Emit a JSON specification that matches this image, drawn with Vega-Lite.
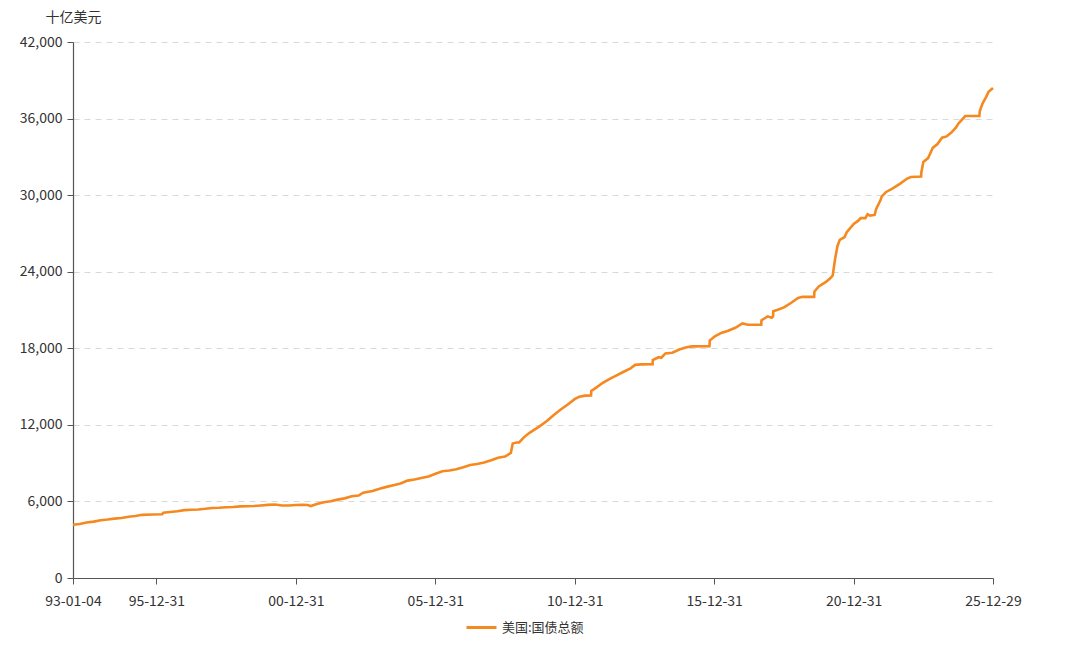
{
  "$schema": "https://vega.github.io/schema/vega-lite/v6.json",
  "width": 920,
  "height": 536,
  "autosize": {"type": "none"},
  "padding": {"left": 73, "top": 42, "right": 87, "bottom": 69},
  "background": "white",
  "config": {
    "view": {"stroke": null},
    "font": "Noto Sans CJK SC"
  },
  "data": {
    "values": [
      {"date": "1993-01-04", "debt": 4170},
      {"date": "1993-04-01", "debt": 4230},
      {"date": "1993-07-01", "debt": 4350},
      {"date": "1993-10-01", "debt": 4420},
      {"date": "1994-01-03", "debt": 4530},
      {"date": "1994-04-01", "debt": 4580},
      {"date": "1994-07-01", "debt": 4650},
      {"date": "1994-10-01", "debt": 4700},
      {"date": "1995-01-03", "debt": 4800},
      {"date": "1995-04-01", "debt": 4860},
      {"date": "1995-07-01", "debt": 4950},
      {"date": "1995-11-15", "debt": 4980},
      {"date": "1996-03-15", "debt": 4990},
      {"date": "1996-04-01", "debt": 5110},
      {"date": "1996-07-01", "debt": 5170},
      {"date": "1996-10-01", "debt": 5230},
      {"date": "1997-01-02", "debt": 5320},
      {"date": "1997-04-01", "debt": 5350},
      {"date": "1997-07-01", "debt": 5370},
      {"date": "1997-10-01", "debt": 5420},
      {"date": "1998-01-02", "debt": 5490},
      {"date": "1998-04-01", "debt": 5500},
      {"date": "1998-07-01", "debt": 5540},
      {"date": "1998-10-01", "debt": 5560},
      {"date": "1999-01-04", "debt": 5610},
      {"date": "1999-04-01", "debt": 5620},
      {"date": "1999-07-01", "debt": 5640},
      {"date": "1999-10-01", "debt": 5680},
      {"date": "2000-01-03", "debt": 5730},
      {"date": "2000-04-03", "debt": 5760},
      {"date": "2000-07-03", "debt": 5680},
      {"date": "2000-10-02", "debt": 5680},
      {"date": "2001-01-02", "debt": 5720},
      {"date": "2001-04-02", "debt": 5730},
      {"date": "2001-06-01", "debt": 5720},
      {"date": "2001-07-16", "debt": 5640},
      {"date": "2001-10-01", "debt": 5800},
      {"date": "2002-01-02", "debt": 5940},
      {"date": "2002-04-01", "debt": 6010},
      {"date": "2002-07-01", "debt": 6140},
      {"date": "2002-10-01", "debt": 6240},
      {"date": "2003-01-02", "debt": 6400},
      {"date": "2003-04-01", "debt": 6460},
      {"date": "2003-06-02", "debt": 6690},
      {"date": "2003-10-01", "debt": 6820},
      {"date": "2004-01-02", "debt": 7000},
      {"date": "2004-04-01", "debt": 7140},
      {"date": "2004-07-01", "debt": 7270},
      {"date": "2004-10-01", "debt": 7400},
      {"date": "2005-01-03", "debt": 7630},
      {"date": "2005-04-01", "debt": 7720},
      {"date": "2005-07-01", "debt": 7840},
      {"date": "2005-10-03", "debt": 7960},
      {"date": "2006-01-03", "debt": 8170},
      {"date": "2006-04-03", "debt": 8370},
      {"date": "2006-07-03", "debt": 8420},
      {"date": "2006-10-02", "debt": 8520},
      {"date": "2007-01-02", "debt": 8680},
      {"date": "2007-04-02", "debt": 8850},
      {"date": "2007-07-02", "debt": 8930},
      {"date": "2007-10-01", "debt": 9050},
      {"date": "2008-01-02", "debt": 9220},
      {"date": "2008-04-01", "debt": 9420},
      {"date": "2008-07-01", "debt": 9510},
      {"date": "2008-09-15", "debt": 9800},
      {"date": "2008-10-10", "debt": 10530},
      {"date": "2008-12-01", "debt": 10620},
      {"date": "2009-01-02", "debt": 10620},
      {"date": "2009-03-02", "debt": 11000},
      {"date": "2009-05-01", "debt": 11300},
      {"date": "2009-07-01", "debt": 11550},
      {"date": "2009-10-01", "debt": 11900},
      {"date": "2010-01-04", "debt": 12320},
      {"date": "2010-04-01", "debt": 12780},
      {"date": "2010-07-01", "debt": 13200},
      {"date": "2010-10-01", "debt": 13600},
      {"date": "2011-01-03", "debt": 14030},
      {"date": "2011-03-01", "debt": 14200},
      {"date": "2011-05-16", "debt": 14290},
      {"date": "2011-08-01", "debt": 14300},
      {"date": "2011-08-05", "debt": 14650},
      {"date": "2011-10-03", "debt": 14900},
      {"date": "2012-01-03", "debt": 15300},
      {"date": "2012-04-02", "debt": 15600},
      {"date": "2012-07-02", "debt": 15880},
      {"date": "2012-10-01", "debt": 16160},
      {"date": "2012-12-31", "debt": 16430},
      {"date": "2013-03-01", "debt": 16700},
      {"date": "2013-05-19", "debt": 16740},
      {"date": "2013-10-16", "debt": 16750},
      {"date": "2013-10-18", "debt": 17080},
      {"date": "2014-01-02", "debt": 17300},
      {"date": "2014-02-07", "debt": 17260},
      {"date": "2014-04-01", "debt": 17600},
      {"date": "2014-07-01", "debt": 17650},
      {"date": "2014-10-01", "debt": 17900},
      {"date": "2015-01-02", "debt": 18080},
      {"date": "2015-03-16", "debt": 18150},
      {"date": "2015-10-30", "debt": 18160},
      {"date": "2015-11-03", "debt": 18600},
      {"date": "2016-01-04", "debt": 18920},
      {"date": "2016-04-01", "debt": 19200},
      {"date": "2016-07-01", "debt": 19380},
      {"date": "2016-10-03", "debt": 19610},
      {"date": "2017-01-03", "debt": 19950},
      {"date": "2017-03-16", "debt": 19850},
      {"date": "2017-09-07", "debt": 19850},
      {"date": "2017-09-11", "debt": 20200},
      {"date": "2017-12-01", "debt": 20500},
      {"date": "2018-01-22", "debt": 20400},
      {"date": "2018-02-09", "debt": 20500},
      {"date": "2018-02-12", "debt": 20900},
      {"date": "2018-04-02", "debt": 21000},
      {"date": "2018-07-02", "debt": 21200},
      {"date": "2018-10-01", "debt": 21550},
      {"date": "2019-01-02", "debt": 21950},
      {"date": "2019-03-01", "debt": 22030},
      {"date": "2019-08-01", "debt": 22030},
      {"date": "2019-08-05", "debt": 22450},
      {"date": "2019-10-01", "debt": 22850},
      {"date": "2020-01-02", "debt": 23200},
      {"date": "2020-03-02", "debt": 23500},
      {"date": "2020-03-31", "debt": 23700},
      {"date": "2020-04-30", "debt": 24950},
      {"date": "2020-06-01", "debt": 26000},
      {"date": "2020-07-01", "debt": 26500},
      {"date": "2020-09-01", "debt": 26700},
      {"date": "2020-10-01", "debt": 27100},
      {"date": "2020-12-31", "debt": 27750},
      {"date": "2021-03-01", "debt": 28000},
      {"date": "2021-04-01", "debt": 28200},
      {"date": "2021-06-01", "debt": 28200},
      {"date": "2021-07-01", "debt": 28500},
      {"date": "2021-08-02", "debt": 28400},
      {"date": "2021-10-01", "debt": 28450},
      {"date": "2021-10-20", "debt": 28900},
      {"date": "2021-12-16", "debt": 29600},
      {"date": "2022-01-03", "debt": 29900},
      {"date": "2022-03-01", "debt": 30250},
      {"date": "2022-06-01", "debt": 30550},
      {"date": "2022-09-01", "debt": 30900},
      {"date": "2022-12-01", "debt": 31300},
      {"date": "2023-01-19", "debt": 31420},
      {"date": "2023-06-02", "debt": 31460},
      {"date": "2023-06-05", "debt": 31800},
      {"date": "2023-07-01", "debt": 32600},
      {"date": "2023-09-01", "debt": 32900},
      {"date": "2023-09-20", "debt": 33150},
      {"date": "2023-11-01", "debt": 33700},
      {"date": "2024-01-02", "debt": 34000},
      {"date": "2024-03-01", "debt": 34500},
      {"date": "2024-05-01", "debt": 34600},
      {"date": "2024-07-01", "debt": 34900},
      {"date": "2024-09-01", "debt": 35300},
      {"date": "2024-10-01", "debt": 35600},
      {"date": "2024-11-15", "debt": 35900},
      {"date": "2024-12-31", "debt": 36200},
      {"date": "2025-03-01", "debt": 36200},
      {"date": "2025-07-03", "debt": 36200},
      {"date": "2025-07-10", "debt": 36600},
      {"date": "2025-08-15", "debt": 37200},
      {"date": "2025-10-01", "debt": 37700},
      {"date": "2025-11-01", "debt": 38100},
      {"date": "2025-12-29", "debt": 38400}
    ]
  },
  "mark": {"type": "line", "strokeWidth": 2.6, "interpolate": "linear"},
  "encoding": {
    "x": {
      "field": "date",
      "type": "temporal",
      "scale": {"type": "utc", "domain": [{"year": 1993, "month": 1, "date": 4, "utc": true}, {"year": 2025, "month": 12, "date": 29, "utc": true}]},
      "axis": {
        "title": null,
        "values": [
          {"year": 1993, "month": 1, "date": 4, "utc": true},
          {"year": 1995, "month": 12, "date": 31, "utc": true},
          {"year": 2000, "month": 12, "date": 31, "utc": true},
          {"year": 2005, "month": 12, "date": 31, "utc": true},
          {"year": 2010, "month": 12, "date": 31, "utc": true},
          {"year": 2015, "month": 12, "date": 31, "utc": true},
          {"year": 2020, "month": 12, "date": 31, "utc": true},
          {"year": 2025, "month": 12, "date": 29, "utc": true}
        ],
        "format": "%y-%m-%d",
        "grid": false,
        "domainColor": "#555555",
        "domainWidth": 1.2,
        "tickColor": "#555555",
        "tickSize": 6,
        "labelColor": "#333333",
        "labelFontSize": 14,
        "labelPadding": 10,
        "labelFont": "Noto Sans CJK SC",
        "labelOverlap": false,
        "labelFlush": false,
        "labelBound": false,
        "labelAlign": "center"
      }
    },
    "y": {
      "field": "debt",
      "type": "quantitative",
      "scale": {"domain": [0, 42000], "nice": false},
      "axis": {
        "values": [0, 6000, 12000, 18000, 24000, 30000, 36000, 42000],
        "format": ",.0f",
        "title": "十亿美元",
        "titleAngle": 0,
        "titleX": 0,
        "titleY": -25,
        "titleAlign": "center",
        "titleBaseline": "middle",
        "titleFontSize": 14,
        "titleFontWeight": "normal",
        "titleColor": "#333333",
        "titleFont": "Noto Sans CJK SC",
        "grid": true,
        "gridColor": "#d9d9d9",
        "gridDash": [6, 5],
        "gridWidth": 1,
        "domainColor": "#555555",
        "domainWidth": 1.2,
        "tickColor": "#555555",
        "tickSize": 6,
        "labelColor": "#333333",
        "labelFontSize": 14,
        "labelPadding": 5,
        "labelFont": "Noto Sans CJK SC",
        "labelFlush": false
      }
    },
    "color": {
      "datum": "美国:国债总额",
      "type": "nominal",
      "scale": {"range": ["#F5891F"]},
      "legend": {
        "title": null,
        "orient": "none",
        "legendX": 392,
        "legendY": 569,
        "symbolType": "stroke",
        "symbolSize": 900,
        "symbolStrokeWidth": 3,
        "labelFontSize": 13,
        "labelColor": "#333333",
        "labelFont": "Noto Sans CJK SC"
      }
    }
  }
}
